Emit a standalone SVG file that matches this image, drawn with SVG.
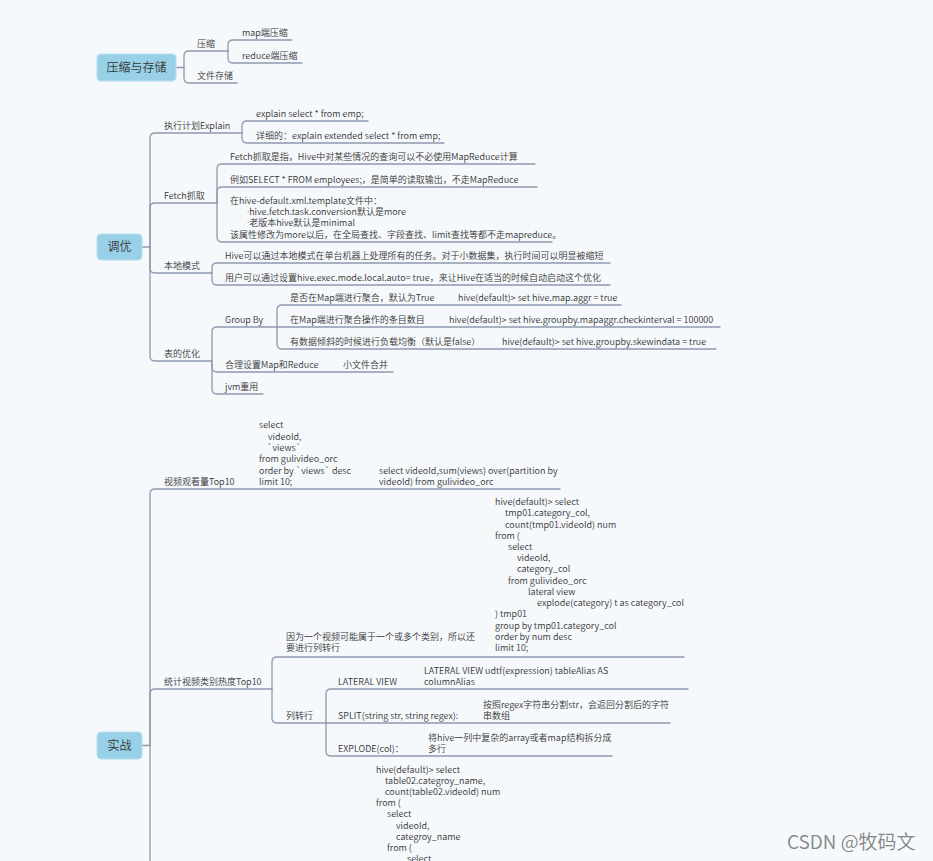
<svg xmlns="http://www.w3.org/2000/svg" width="933" height="861" viewBox="0 0 933 861">
<style>
  text { font-family: "Noto Sans CJK SC", "Noto Sans", sans-serif; font-size: 9px; font-weight: 350; fill: #353535; }
  .dot { font-family: "Noto Sans", "DejaVu Sans", sans-serif; }
  .root rect { fill: #98d1e7; stroke: #b3def0; stroke-width: 1; }
  .root text { font-size: 12px; text-anchor: middle; }
  #connectors path { fill: none; stroke: #8f99ad; stroke-width: 1.3; stroke-linecap: round; }
  .wm { font-size: 19px; fill: #858585; }
</style>
<rect x="0" y="0" width="933" height="861" fill="#f5f9fc"/>

<g id="connectors">
  <!-- 压缩与存储 -->
  <path d="M176 67.5 H184"/>
  <path d="M184 67.5 V56 Q184 51 189 51 H228"/>
  <path d="M184 67.5 V78 Q184 83 189 83 H237"/>
  <path d="M228 51 V45 Q228 40 233 40 H292"/>
  <path d="M228 51 V58 Q228 63 233 63 H302"/>
  <!-- 调优 -->
  <path d="M142 247 H150"/>
  <path d="M150 247 V138 Q150 133 155 133 H242"/>
  <path d="M150 247 V208 Q150 203 155 203 H217"/>
  <path d="M150 247 V268 Q150 273 155 273 H212"/>
  <path d="M150 247 V356 Q150 361 155 361 H212"/>
  <path d="M242 133 V126 Q242 121 247 121 H368"/>
  <path d="M242 133 V138 Q242 143 247 143 H444"/>
  <path d="M217 203 V169 Q217 164 222 164 H535"/>
  <path d="M217 203 V192 Q217 187 222 187 H537"/>
  <path d="M217 203 V237 Q217 242 222 242 H552"/>
  <path d="M212 273 V268 Q212 263 217 263 H610"/>
  <path d="M212 273 V280 Q212 285 217 285 H610"/>
  <path d="M212 361 V332 Q212 327 217 327 H277"/>
  <path d="M212 361 V367 Q212 372 217 372 H393"/>
  <path d="M212 361 V389 Q212 394 217 394 H263"/>
  <path d="M277 327 V310 Q277 305 282 305 H621"/>
  <path d="M277 327 H720"/>
  <path d="M277 327 V344 Q277 349 282 349 H716"/>
  <!-- 实战 -->
  <path d="M142 745.5 H150"/>
  <path d="M150 745.5 V494 Q150 489 155 489 H560"/>
  <path d="M150 745.5 V694 Q150 689 155 689 H272"/>
  <path d="M150 745.5 V861"/>
  <path d="M272 689 V662 Q272 657 277 657 H684"/>
  <path d="M272 689 V718 Q272 723 277 723 H326"/>
  <path d="M326 723 V694 Q326 689 331 689 H688"/>
  <path d="M326 723 H670"/>
  <path d="M326 723 V751 Q326 756 331 756 H612"/>
</g>

<!-- Root: 压缩与存储 -->
<g id="n-yasuo-cunchu" class="root">
  <rect x="97" y="54" width="79" height="27" rx="4"/>
  <text x="136.5" y="71.5">压缩与存储</text>
</g>
<g id="n-yasuo"><text x="197" y="46.5">压缩</text></g>
<g id="n-map-yasuo"><text x="242" y="35.5">map端压缩</text></g>
<g id="n-reduce-yasuo"><text x="242" y="58.5">reduce端压缩</text></g>
<g id="n-wenjian-cunchu"><text x="197" y="78.5">文件存储</text></g>

<!-- Root: 调优 -->
<g id="n-tiaoyou" class="root">
  <rect x="97" y="234" width="45" height="26" rx="4"/>
  <text x="119.5" y="251.2">调优</text>
</g>
<g id="n-explain"><text x="164" y="128.5">执行计划Explain</text></g>
<g id="n-explain-1"><text x="256" y="116.5">explain select * from emp;</text></g>
<g id="n-explain-2"><text x="256" y="138.5">详细的：explain extended select * from emp;</text></g>
<g id="n-fetch"><text x="164" y="198.5">Fetch抓取</text></g>
<g id="n-fetch-1"><text x="230" y="159.5">Fetch抓取是指，Hive中对某些情况的查询可以不必使用MapReduce计算</text></g>
<g id="n-fetch-2"><text x="230" y="182.5">例如SELECT * FROM employees;，是简单的读取输出，不走MapReduce</text></g>
<g id="n-fetch-3">
  <text x="230" y="204">在hive-default.xml.template文件中：</text>
  <text x="247" y="215"><tspan class="dot">·</tspan>hive.fetch.task.conversion默认是more</text>
  <text x="247" y="226"><tspan class="dot">·</tspan>老版本hive默认是minimal</text>
  <text x="230" y="237.5">该属性修改为more以后，在全局查找、字段查找、limit查找等都不走mapreduce。</text>
</g>
<g id="n-local"><text x="164" y="268.5">本地模式</text></g>
<g id="n-local-1"><text x="225" y="258.5">Hive可以通过本地模式在单台机器上处理所有的任务。对于小数据集，执行时间可以明显被缩短</text></g>
<g id="n-local-2"><text x="225" y="280.5">用户可以通过设置hive.exec.mode.local.auto= true，来让Hive在适当的时候自动启动这个优化</text></g>
<g id="n-table"><text x="164" y="356.5">表的优化</text></g>
<g id="n-groupby"><text x="225" y="322.5">Group By</text></g>
<g id="n-gb-1"><text x="290" y="300.5">是否在Map端进行聚合，默认为True</text></g>
<g id="n-gb-1a"><text x="458" y="300.5">hive(default)&gt; set hive.map.aggr = true</text></g>
<g id="n-gb-2"><text x="290" y="322.5">在Map端进行聚合操作的条目数目</text></g>
<g id="n-gb-2a"><text x="449" y="322.5">hive(default)&gt; set hive.groupby.mapaggr.checkinterval = 100000</text></g>
<g id="n-gb-3"><text x="290" y="344.5">有数据倾斜的时候进行负载均衡（默认是false）</text></g>
<g id="n-gb-3a"><text x="502" y="344.5">hive(default)&gt; set hive.groupby.skewindata = true</text></g>
<g id="n-mapreduce"><text x="225" y="367.5">合理设置Map和Reduce</text></g>
<g id="n-smallfile"><text x="343" y="367.5">小文件合并</text></g>
<g id="n-jvm"><text x="225" y="389.5">jvm重用</text></g>

<!-- Root: 实战 -->
<g id="n-shizhan" class="root">
  <rect x="97" y="732" width="45" height="27" rx="4"/>
  <text x="119.5" y="749.7">实战</text>
</g>
<g id="n-top10-views"><text x="164" y="484.5">视频观看量Top10</text></g>
<g id="n-top10-views-sql">
  <text x="259" y="428.3">select</text>
  <text x="268" y="439.6">videoId,</text>
  <text x="267" y="451">`views`</text>
  <text x="259" y="462.3">from gulivideo_orc</text>
  <text x="259" y="473.7">order by `views` desc</text>
  <text x="259" y="485">limit 10;</text>
</g>
<g id="n-top10-views-sql2">
  <text x="379" y="473.7">select videoId,sum(views) over(partition by</text>
  <text x="379" y="485">videoId) from gulivideo_orc</text>
</g>
<g id="n-top10-category"><text x="164" y="684.5">统计视频类别热度Top10</text></g>
<g id="n-reason">
  <text x="286" y="639.5">因为一个视频可能属于一个或多个类别，所以还</text>
  <text x="286" y="650.5">要进行列转行</text>
</g>
<g id="n-category-sql">
  <text x="495" y="505">hive(default)&gt; select</text>
  <text x="505" y="516.2">tmp01.category_col,</text>
  <text x="505" y="527.5">count(tmp01.videoId) num</text>
  <text x="495" y="538.7">from (</text>
  <text x="508" y="549.9">select</text>
  <text x="517" y="561.2">videoId,</text>
  <text x="517" y="572.4">category_col</text>
  <text x="508" y="583.6">from gulivideo_orc</text>
  <text x="528" y="594.8">lateral view</text>
  <text x="537" y="606.1">explode(category) t as category_col</text>
  <text x="495" y="617.3">) tmp01</text>
  <text x="495" y="628.5">group by tmp01.category_col</text>
  <text x="495" y="639.8">order by num desc</text>
  <text x="495" y="651">limit 10;</text>
</g>
<g id="n-liezhuanhang"><text x="286" y="718.5">列转行</text></g>
<g id="n-lateral"><text x="338" y="684.5">LATERAL VIEW</text></g>
<g id="n-lateral-desc">
  <text x="424" y="673.5">LATERAL VIEW udtf(expression) tableAlias AS</text>
  <text x="424" y="684.5">columnAlias</text>
</g>
<g id="n-split"><text x="338" y="718.5">SPLIT(string str, string regex):</text></g>
<g id="n-split-desc">
  <text x="483" y="707.5">按照regex字符串分割str，会返回分割后的字符</text>
  <text x="483" y="718.5">串数组</text>
</g>
<g id="n-explode"><text x="338" y="751.5">EXPLODE(col)：</text></g>
<g id="n-explode-desc">
  <text x="428" y="740.5">将hive一列中复杂的array或者map结构拆分成</text>
  <text x="428" y="751.5">多行</text>
</g>
<g id="n-category-sql2">
  <text x="376" y="772.5">hive(default)&gt; select</text>
  <text x="385" y="783.7">table02.categroy_name,</text>
  <text x="385" y="794.9">count(table02.videoId) num</text>
  <text x="376" y="806.1">from (</text>
  <text x="387" y="817.3">select</text>
  <text x="396" y="828.5">videoId,</text>
  <text x="396" y="839.7">categroy_name</text>
  <text x="387" y="850.9">from (</text>
  <text x="407" y="862.1">select</text>
</g>

<text class="wm" x="787" y="849">CSDN @牧码文</text>
</svg>
